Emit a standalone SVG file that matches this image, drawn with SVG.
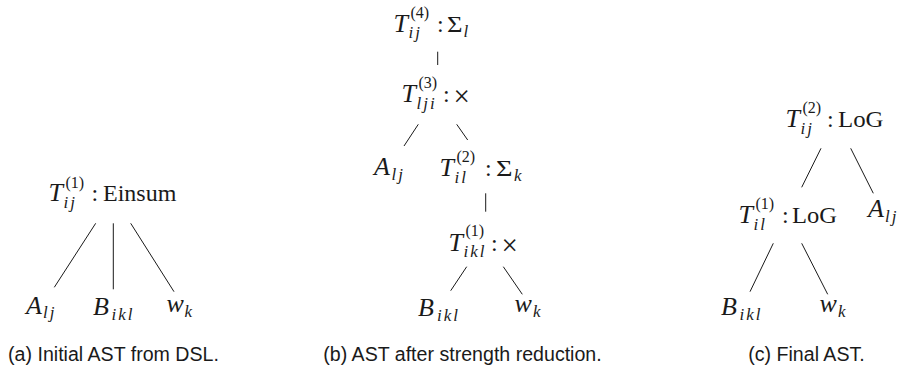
<svg xmlns="http://www.w3.org/2000/svg" width="899" height="374" viewBox="0 0 899 374">
<style>
text{fill:#1a1a1a}
.m{font-family:"Liberation Serif","Times New Roman",serif;font-size:24px}
.i{font-family:"Liberation Serif","Times New Roman",serif;font-size:26px;font-style:italic}
.p{font-family:"Liberation Serif","Times New Roman",serif;font-size:16px}
.b{font-family:"Liberation Serif","Times New Roman",serif;font-size:17px;font-style:italic;letter-spacing:2px}
.x{font-family:"Liberation Serif","Times New Roman",serif;font-size:29px}
.cap{font-family:"Liberation Sans",Arial,sans-serif;font-size:19.6px}
.e line{stroke:#1a1a1a;stroke-width:1}
</style>
<rect width="899" height="374" fill="#fff"/>
<g class="e" id="connectors">
<line x1="95.7" y1="223.3" x2="54.3" y2="287.3"/>
<line x1="113.3" y1="223.3" x2="113.3" y2="289.3"/>
<line x1="130.7" y1="223.3" x2="174" y2="291.7"/>
<line x1="437.7" y1="51.7" x2="437.7" y2="65"/>
<line x1="418.3" y1="124.3" x2="404" y2="146"/>
<line x1="456.7" y1="124.3" x2="467.7" y2="140"/>
<line x1="485.7" y1="193.3" x2="485.7" y2="211.7"/>
<line x1="466.7" y1="266.7" x2="450.7" y2="290.7"/>
<line x1="503.3" y1="266.7" x2="522.3" y2="294.3"/>
<line x1="821" y1="148.3" x2="801.7" y2="187.3"/>
<line x1="850.7" y1="148.3" x2="873.3" y2="193.3"/>
<line x1="773.3" y1="243.3" x2="750" y2="291.7"/>
<line x1="801.7" y1="243.3" x2="827.7" y2="294.3"/>
</g>
<!-- panel a -->
<g id="a-T1">
<text class="i" x="48.5" y="201">T</text><text class="p" x="65.5" y="188">(1)</text><text class="b" x="63.5" y="208">ij</text><text class="m" x="91.5" y="201">:</text><text class="m" x="103" y="201">Einsum</text>
</g>
<g id="a-A"><text class="i" x="26" y="313.5">A</text><text class="b" x="43" y="318">lj</text></g>
<g id="a-B"><text class="i" x="93" y="315">B</text><text class="b" x="111.5" y="319.5">ikl</text></g>
<g id="a-w"><text class="i" x="166.5" y="312">w</text><text class="b" x="184.5" y="317">k</text></g>
<text class="cap" x="113.5" y="361" text-anchor="middle">(a) Initial AST from DSL.</text>
<!-- panel b -->
<g id="b-T4">
<text class="i" x="393.5" y="32">T</text><text class="p" x="410.5" y="18">(4)</text><text class="b" x="408.5" y="38">ij</text><text class="m" x="437" y="32">:</text><text class="m" x="447" y="32" textLength="15.5" lengthAdjust="spacingAndGlyphs">Σ</text><text class="b" x="463.5" y="37">l</text>
</g>
<g id="b-T3">
<text class="i" x="401.5" y="102">T</text><text class="p" x="418.5" y="88">(3)</text><text class="b" x="416.5" y="109">lji</text><text class="m" x="443" y="102">:</text><text class="x" x="453.5" y="106">×</text>
</g>
<g id="b-A"><text class="i" x="374" y="175">A</text><text class="b" x="391.5" y="180">lj</text></g>
<g id="b-T2">
<text class="i" x="439.5" y="176">T</text><text class="p" x="456.5" y="162">(2)</text><text class="b" x="454.5" y="183">il</text><text class="m" x="485" y="176">:</text><text class="m" x="496" y="176" textLength="16.5" lengthAdjust="spacingAndGlyphs">Σ</text><text class="b" x="514" y="181">k</text>
</g>
<g id="b-T1">
<text class="i" x="448.5" y="251">T</text><text class="p" x="465.5" y="236">(1)</text><text class="b" x="463.5" y="257">ikl</text><text class="m" x="491" y="251">:</text><text class="x" x="501.5" y="255">×</text>
</g>
<g id="b-B"><text class="i" x="418" y="316">B</text><text class="b" x="437" y="320.5">ikl</text></g>
<g id="b-w"><text class="i" x="514.5" y="312">w</text><text class="b" x="533" y="317">k</text></g>
<text class="cap" x="462.5" y="361" text-anchor="middle">(b) AST after strength reduction.</text>
<!-- panel c -->
<g id="c-T2">
<text class="i" x="785.5" y="127">T</text><text class="p" x="802.5" y="113">(2)</text><text class="b" x="800.5" y="134">ij</text><text class="m" x="827" y="127">:</text><text class="m" x="838" y="127" textLength="45.5" lengthAdjust="spacingAndGlyphs">LoG</text>
</g>
<g id="c-T1">
<text class="i" x="738.5" y="223">T</text><text class="p" x="755.5" y="209">(1)</text><text class="b" x="753.5" y="230">il</text><text class="m" x="782" y="223">:</text><text class="m" x="792" y="223" textLength="45" lengthAdjust="spacingAndGlyphs">LoG</text>
</g>
<g id="c-A"><text class="i" x="868" y="217">A</text><text class="b" x="885" y="222">lj</text></g>
<g id="c-B"><text class="i" x="721" y="315">B</text><text class="b" x="739.5" y="320">ikl</text></g>
<g id="c-w"><text class="i" x="819.5" y="312">w</text><text class="b" x="838" y="317">k</text></g>
<text class="cap" x="806.5" y="361" text-anchor="middle">(c) Final AST.</text>
</svg>
